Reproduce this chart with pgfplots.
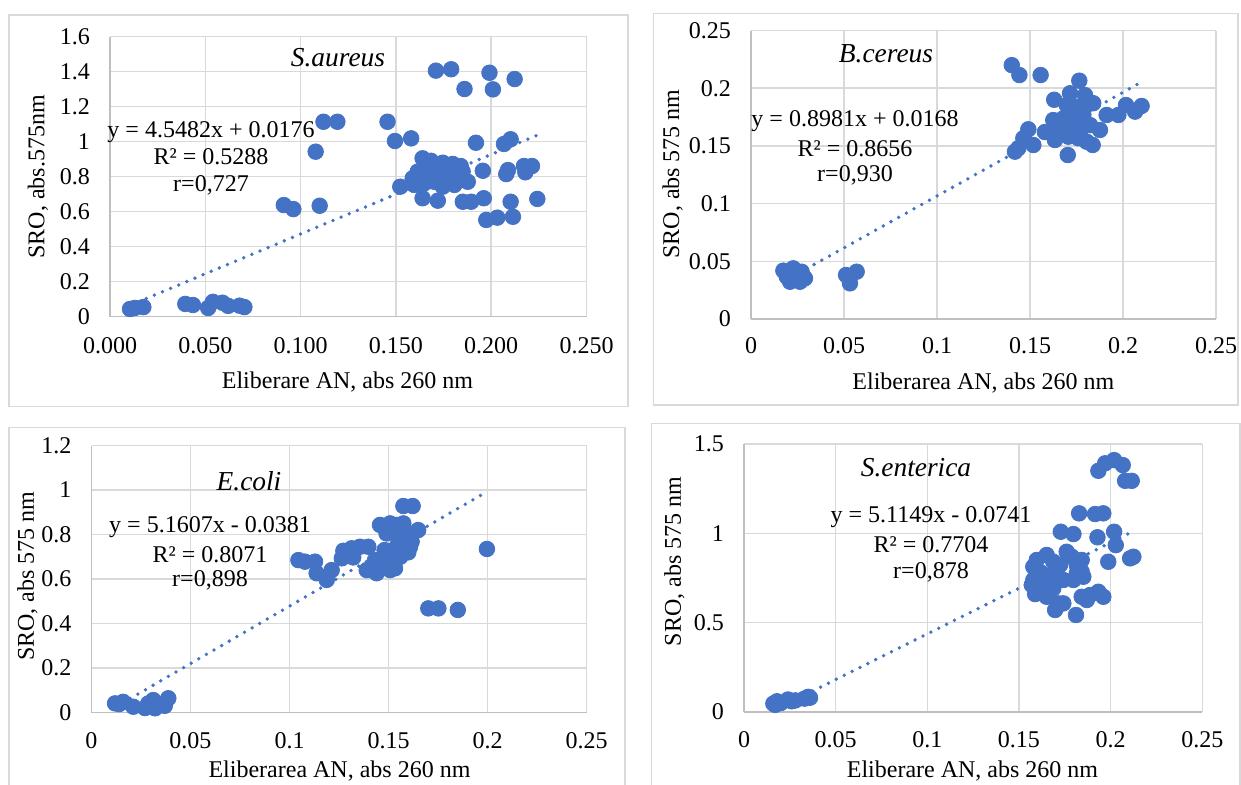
\documentclass[border=0pt]{standalone}
\usepackage{fontspec}
\setmainfont{Liberation Serif}
\usepackage{pgfplots}
\pgfplotsset{compat=1.18}
\definecolor{mblue}{HTML}{4472C4}
\definecolor{gridc}{HTML}{D9D9D9}
\definecolor{axisc}{HTML}{BFBFBF}
\definecolor{framec}{HTML}{D9D9D9}

\pgfplotsset{
  panel/.style={
    scale only axis, anchor=south west,
    axis x line*=bottom, axis y line*=left,
    axis line style={draw=axisc, line width=0.75pt, -},
    grid=major,
    major grid style={draw=gridc, line width=0.75pt},
    major tick length=0pt,
    tick style={draw=none},
    yticklabel style={xshift=-6.5pt},
    clip=false,
  },
  pts/.style={only marks, mark=*, mark size=3.9pt, color=mblue, mark options={draw=mblue, fill=mblue}},
  trend/.style={mblue, line width=1.9pt, line cap=round, dash pattern=on 0pt off 4.4pt},
}

\begin{document}
\begin{tikzpicture}[font=\fontsize{12}{14}\selectfont]
\useasboundingbox (0,0) rectangle (620.5pt,392pt);

\begin{scope}[x=0.5pt,y=-0.5pt,shift={(0,392pt)}]
\draw[framec, line width=0.75pt] (8.8,15) rectangle (628,406.7);
\draw[framec, line width=0.75pt] (653.4,13.3) rectangle (1238,405);
\draw[framec, line width=0.75pt] (8.8,427.7) rectangle (624.8,820);
\draw[framec, line width=0.75pt] (651.5,423.3) rectangle (1240,820);
\end{scope}

% ---------- S.aureus ----------
\begin{axis}[panel, at={(55pt,233.65pt)}, width=238.25pt, height=140pt,
  xmin=0, xmax=0.25, ymin=0, ymax=1.6,
  xtick={0,0.05,0.1,0.15,0.2,0.25},
  xticklabels={0.000,0.050,0.100,0.150,0.200,0.250},
  ytick={0,0.2,0.4,0.6,0.8,1,1.2,1.4,1.6},
  yticklabels={0,0.2,0.4,0.6,0.8,1,1.2,1.4,1.6},
  xticklabel style={yshift=-7pt}]
\addplot[pts] table {
0.0105 0.044
0.0130 0.050
0.0175 0.055
0.0395 0.073
0.0435 0.067
0.0515 0.050
0.0540 0.085
0.0590 0.080
0.0620 0.062
0.0680 0.063
0.0705 0.055
0.0912 0.638
0.0962 0.615
0.1100 0.634
0.1079 0.943
0.1120 1.114
0.1193 1.114
0.1456 1.114
0.1495 1.004
0.1580 1.019
0.1523 0.743
0.1710 1.406
0.1790 1.414
0.1860 1.301
0.1991 1.394
0.2009 1.299
0.2123 1.358
0.1920 0.994
0.2067 0.987
0.2102 1.014
0.1640 0.905
0.1684 0.891
0.1746 0.880
0.1798 0.873
0.1840 0.861
0.1614 0.829
0.1675 0.838
0.1720 0.819
0.1772 0.810
0.1825 0.800
0.1877 0.771
0.1956 0.834
0.1596 0.753
0.1649 0.762
0.1702 0.771
0.1746 0.743
0.1807 0.753
0.1640 0.677
0.1720 0.663
0.1851 0.657
0.1895 0.657
0.1961 0.677
0.2088 0.838
0.2079 0.815
0.2172 0.861
0.2214 0.861
0.2179 0.825
0.2242 0.673
0.2102 0.657
0.2114 0.571
0.1974 0.553
0.2032 0.566
0.1588 0.791
0.1680 0.790
0.1760 0.785
0.1850 0.830
0.1800 0.830
0.1700 0.850
};
\addplot[trend] coordinates {(0.0105,0.0654) (0.2242,1.0373)};
\end{axis}

% ---------- B.cereus ----------
\begin{axis}[panel, at={(375.5pt,232.5pt)}, width=232.5pt, height=144.25pt,
  xmin=0, xmax=0.25, ymin=0, ymax=0.25,
  xtick={0,0.05,0.1,0.15,0.2,0.25},
  xticklabels={0,0.05,0.1,0.15,0.2,0.25},
  ytick={0,0.05,0.1,0.15,0.2,0.25},
  yticklabels={0,0.05,0.1,0.15,0.2,0.25},
  xticklabel style={yshift=-5.8pt}]
\addplot[pts] table {
0.0174 0.0419
0.0192 0.0367
0.0210 0.0323
0.0227 0.0439
0.0246 0.0381
0.0263 0.0323
0.0272 0.0410
0.0290 0.0353
0.0511 0.0381
0.0532 0.0309
0.0568 0.0410
0.1402 0.2200
0.1443 0.2114
0.1557 0.2114
0.1765 0.2065
0.1630 0.1900
0.1715 0.1956
0.1796 0.1940
0.1840 0.1870
0.1697 0.1854
0.1760 0.1840
0.1912 0.1768
0.1975 0.1768
0.2016 0.1854
0.2065 0.1797
0.2100 0.1846
0.1625 0.1724
0.1680 0.1740
0.1733 0.1753
0.1787 0.1768
0.1598 0.1623
0.1661 0.1638
0.1724 0.1638
0.1778 0.1653
0.1823 0.1680
0.1876 0.1638
0.1634 0.1551
0.1706 0.1580
0.1760 0.1566
0.1805 0.1536
0.1837 0.1508
0.1703 0.1421
0.1491 0.1644
0.1464 0.1566
0.1518 0.1508
0.1419 0.1450
0.1437 0.1480
0.1580 0.1620
};
\addplot[trend] coordinates {(0.0174,0.0324) (0.2100,0.2054)};
\end{axis}

% ---------- E.coli ----------
\begin{axis}[panel, at={(45.75pt,35.75pt)}, width=247.5pt, height=133.5pt,
  xmin=0, xmax=0.25, ymin=0, ymax=1.2,
  xtick={0,0.05,0.1,0.15,0.2,0.25},
  xticklabels={0,0.05,0.1,0.15,0.2,0.25},
  ytick={0,0.2,0.4,0.6,0.8,1,1.2},
  yticklabels={0,0.2,0.4,0.6,0.8,1,1.2},
  xticklabel style={yshift=-6.6pt}]
\addplot[pts] table {
0.0119 0.041
0.0140 0.038
0.0160 0.048
0.0211 0.026
0.0270 0.020
0.0287 0.041
0.0312 0.056
0.0321 0.019
0.0354 0.034
0.0388 0.064
0.0370 0.030
0.1045 0.685
0.1078 0.678
0.1129 0.678
0.1137 0.626
0.1188 0.596
0.1213 0.640
0.1264 0.693
0.1272 0.727
0.1314 0.738
0.1322 0.697
0.1356 0.745
0.1398 0.745
0.1390 0.640
0.1440 0.626
0.1432 0.685
0.1466 0.671
0.1474 0.700
0.1490 0.655
0.1508 0.723
0.1508 0.640
0.1524 0.678
0.1533 0.648
0.1541 0.745
0.1575 0.760
0.1609 0.745
0.1617 0.768
0.1457 0.843
0.1508 0.850
0.1541 0.843
0.1575 0.850
0.1490 0.805
0.1541 0.813
0.1580 0.820
0.1650 0.820
0.1575 0.928
0.1622 0.928
0.1701 0.468
0.1752 0.468
0.1850 0.461
0.1997 0.735
0.1560 0.700
0.1600 0.720
0.1520 0.700
0.1480 0.730
0.1550 0.780
};
\addplot[trend] coordinates {(0.0119,0.0233) (0.1997,0.9925)};
\end{axis}

% ---------- S.enterica ----------
\begin{axis}[panel, at={(372pt,36pt)}, width=229.15pt, height=134pt,
  xmin=0, xmax=0.25, ymin=0, ymax=1.5,
  xtick={0,0.05,0.1,0.15,0.2,0.25},
  xticklabels={0,0.05,0.1,0.15,0.2,0.25},
  ytick={0,0.5,1,1.5},
  yticklabels={0,0.5,1,1.5},
  xticklabel style={yshift=-6pt}]
\addplot[pts] table {
0.0160 0.047
0.0170 0.040
0.0180 0.060
0.0200 0.050
0.0240 0.070
0.0260 0.060
0.0280 0.065
0.0330 0.075
0.0350 0.085
0.0360 0.080
0.1933 1.350
0.1970 1.392
0.2019 1.410
0.2066 1.382
0.2079 1.294
0.2115 1.294
0.1828 1.112
0.1915 1.108
0.1960 1.112
0.1728 1.009
0.1797 0.996
0.1928 0.978
0.2019 1.009
0.2028 0.934
0.1987 0.841
0.2106 0.860
0.2124 0.869
0.1760 0.897
0.1651 0.879
0.1597 0.851
0.1578 0.813
0.1687 0.841
0.1724 0.823
0.1815 0.823
0.1842 0.785
0.1851 0.757
0.1578 0.739
0.1633 0.767
0.1697 0.757
0.1742 0.739
0.1797 0.739
0.1570 0.711
0.1633 0.701
0.1687 0.692
0.1588 0.660
0.1651 0.645
0.1715 0.608
0.1697 0.571
0.1742 0.608
0.1811 0.543
0.1842 0.645
0.1888 0.655
0.1870 0.627
0.1933 0.673
0.1960 0.645
0.1788 0.869
0.1842 0.851
0.1815 0.776
0.1700 0.800
0.1620 0.780
};
\addplot[trend] coordinates {(0.0160,0.0077) (0.2124,1.0123)};
\end{axis}

% ---------- texts ----------
\begin{scope}[x=0.5pt,y=-0.5pt,shift={(0,392pt)}]
\node[font=\fontsize{13.7}{16}\selectfont\itshape] at (338,58) {S.aureus};
\node at (211,131.7) {y = 4.5482x + 0.0176};
\node at (211,156.7) {R² = 0.5288};
\node at (211,185) {r=0,727};
\node at (347.5,381.7) {Eliberare AN, abs 260 nm};
\node[rotate=90] at (38,176.7) {SRO, abs.575nm};

\node[font=\fontsize{13.7}{16}\selectfont\itshape] at (886,54) {B.cereus};
\node at (855,120.7) {y = 0.8981x + 0.0168};
\node at (855,148.3) {R² = 0.8656};
\node at (855,175) {r=0,930};
\node at (983.4,383.3) {Eliberarea AN, abs 260 nm};
\node[rotate=90] at (672.6,174) {SRO, abs 575 nm};

\node[font=\fontsize{13.7}{16}\selectfont\itshape] at (249,481) {E.coli};
\node at (210,526.7) {y = 5.1607x - 0.0381};
\node at (210,554.3) {R² = 0.8071};
\node at (210,580.7) {r=0,898};
\node at (339.5,771.5) {Eliberarea AN, abs 260 nm};
\node[rotate=90] at (27.3,576) {SRO, abs 575 nm};

\node[font=\fontsize{13.7}{16}\selectfont\itshape] at (916,467.5) {S.enterica};
\node at (931,516.7) {y = 5.1149x - 0.0741};
\node at (931,545) {R² = 0.7704};
\node at (931,572.3) {r=0,878};
\node at (972.5,771.5) {Eliberare AN, abs 260 nm};
\node[rotate=90] at (674.5,561.5) {SRO, abs 575 nm};
\end{scope}
\end{tikzpicture}
\end{document}
